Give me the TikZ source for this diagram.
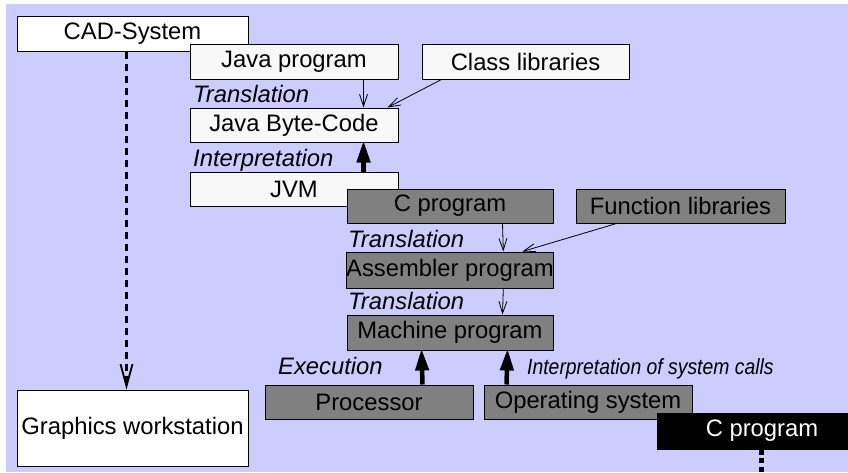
\documentclass[tikz,border=0pt]{standalone}
\usepackage{fontspec}
\setmainfont{Liberation Sans}
\newfontfamily\narrowfont[FakeStretch=0.88]{Liberation Sans}
\usetikzlibrary{arrows.meta,calc}
\definecolor{bgblue}{HTML}{CCCCFF}
\definecolor{paper}{HTML}{F8F8F8}
\definecolor{midgray}{HTML}{808080}
\tikzset{
  base/.style={draw=black,line width=1pt,inner sep=0pt,align=center,
    font=\fontsize{23.8pt}{28pt}\selectfont},
  whitebox/.style={base,fill=white},
  javabox/.style={base,fill=paper},
  graybox/.style={base,fill=midgray,text=black},
  blackbox/.style={base,fill=black,text=white},
  lbl/.style={inner sep=0pt,anchor=base west,
    font=\fontsize{23.8pt}{28pt}\selectfont\itshape},
  thinarrow/.style={line width=0.8pt,-{Straight Barb[length=12pt,width=8pt]}},
  bigarrow/.style={line width=4.5pt,-{Triangle[length=22pt,width=13pt]}},
  dasharrow/.style={line width=2.4pt,dash pattern=on 7pt off 5pt,
    -{Straight Barb[length=22pt,width=12pt,line width=1.8pt]}},
  dotline/.style={line width=5pt,dash pattern=on 5pt off 3.5pt},
}
\begin{document}
\begin{tikzpicture}[x=1pt,y=-1pt]
  \useasboundingbox (0,0) rectangle (848,472);
  \fill[white] (0,0) rectangle (848,472);
  \fill[bgblue] (6,4) rectangle (848,472);

  % left column
  \node[whitebox,minimum width=231pt,minimum height=35pt] (cad) at (132.5,33.5) {CAD-System};
  \node[whitebox,minimum width=231pt,minimum height=76pt] (gw) at (132.5,428) {Graphics workstation};

  % Java layer
  \node[javabox,minimum width=208pt,minimum height=35pt] (javaprog) at (294,61.5) {Java program};
  \node[javabox,minimum width=207pt,minimum height=35pt] (classlib) at (525.5,61.5) {Class libraries};
  \node[javabox,minimum width=208pt,minimum height=34pt] (bytecode) at (294,125) {Java Byte-Code};
  \node[javabox,minimum width=208pt,minimum height=34pt] (jvm) at (294,189) {JVM};

  % C layer
  \node[graybox,minimum width=206pt,minimum height=34pt] (cprog) at (450,206) {C program};
  \node[graybox,minimum width=209pt,minimum height=34pt] (funclib) at (680.5,206) {Function libraries};
  \node[graybox,minimum width=206pt,minimum height=36pt] (asm) at (450,270) {Assembler program};
  \node[graybox,minimum width=206pt,minimum height=35pt] (mach) at (450,332.5) {Machine program};
  \node[graybox,minimum width=208pt,minimum height=34pt] (proc) at (369,402) {Processor};
  \node[graybox,minimum width=208pt,minimum height=34pt] (os) at (588,402) {Operating system};

  % next C program
  \node[blackbox,minimum width=210pt,minimum height=36pt] (cblack) at (762,431) {C program};
  \coordinate (cbend) at (761,480);

  % labels
  \node[lbl] (tr1) at (193,102) {Translation};
  \node[lbl] (interp) at (193,166) {Interpretation};
  \node[lbl] (tr2) at (348,247) {Translation};
  \node[lbl] (tr3) at (348,309) {Translation};
  \node[lbl] (exec) at (278,374) {Execution};
  \node[inner sep=0pt,anchor=base west,font=\fontsize{22pt}{26pt}\narrowfont\itshape]
    (syscalls) at (527,374) {Interpretation of system calls};

  % connectors
  \draw[dasharrow] ([xshift=110pt]cad.south west) -- ([xshift=110pt]gw.north west);
  \draw[thinarrow] ([xshift=-35pt]javaprog.south east) -- ([xshift=-35pt]bytecode.north east);
  \draw[thinarrow] ([xshift=20pt]classlib.south west) -- ([xshift=-11pt]bytecode.north east);
  \draw[bigarrow] ([xshift=-35pt]jvm.north east) -- ([xshift=-35pt,yshift=2pt]bytecode.south east);
  \draw[thinarrow] ([xshift=-51pt]cprog.south east) -- ([xshift=-51pt]asm.north east);
  \draw[thinarrow] ([xshift=41pt]funclib.south west) -- ([xshift=-32pt]asm.north east);
  \draw[thinarrow] ([xshift=-51pt]asm.south east) -- ([xshift=-51pt]mach.north east);
  \draw[bigarrow] ([xshift=-51pt]proc.north east) -- ([xshift=75pt,yshift=2pt]mach.south west);
  \draw[bigarrow] ([xshift=23pt]os.north west) -- ([xshift=-46pt,yshift=2pt]mach.south east);
  \draw[dotline] ([xshift=-1pt]cblack.south) -- (cbend);
\end{tikzpicture}
\end{document}
